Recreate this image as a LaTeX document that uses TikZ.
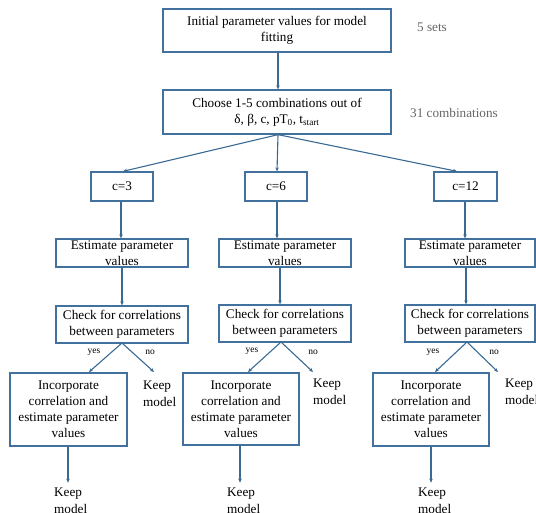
\documentclass[tikz,border=0pt]{standalone}
\usepackage{fontspec}
\setmainfont{Liberation Serif}
\usetikzlibrary{arrows.meta,calc}
\definecolor{boxc}{HTML}{41719C}
\definecolor{arrc}{HTML}{3A6A94}
\begin{document}
\begin{tikzpicture}[x=1pt,y=-1pt,
  box/.style={draw=boxc,line width=1.3pt,rectangle,align=center,inner sep=0pt,
    font=\fontsize{13.2}{16}\selectfont},
  arr/.style={draw=arrc,line width=1.1pt,-{Stealth[length=4pt,width=3.5pt]}},
  note/.style={font=\fontsize{13.2}{16}\selectfont,text=black!60,inner sep=0pt},
  plain/.style={font=\fontsize{13.2}{16.5}\selectfont,align=left,inner sep=0pt},
  yn/.style={font=\fontsize{9.5}{11}\selectfont,inner sep=0pt}]
\useasboundingbox (0,0) rectangle (536,513);

\node[box,minimum width=228pt,minimum height=43pt] (b1) at (277,30.5)
  {Initial parameter values for model\\fitting};
\node[note] (n1) at (432,27) {5 sets};
\node[box,minimum width=228pt,minimum height=44pt] (b2) at (277,112)
  {Choose 1-5 combinations out of\\δ, β, c, pT\textsubscript{0}, t\textsubscript{start}};
\node[note] (n2) at (454,113) {31 combinations};
\draw[arr] ([xshift=1pt]b1.south) -- ([xshift=1pt]b2.north);

% c boxes
\node[box,minimum width=62pt,minimum height=29pt] (c3) at (122,186.5) {c=3};
\node[box,minimum width=62pt,minimum height=29pt] (c6) at (276,186.5) {c=6};
\node[box,minimum width=63pt,minimum height=29pt] (c12) at (465.5,186.5) {c=12};
\draw[arr] ([xshift=1pt]b2.south) -- ([xshift=1pt]c3.north);
\draw[arr] ([xshift=1pt]b2.south) -- ([xshift=1pt]c6.north);
\draw[arr] ([xshift=1pt]b2.south) -- ([xshift=-8.5pt]c12.north);

% estimate boxes
\node[box,minimum width=132pt,minimum height=28pt] (e1) at (122,253) {Estimate parameter\\values};
\node[box,minimum width=132pt,minimum height=28pt] (e2) at (285,253) {Estimate parameter\\values};
\node[box,minimum width=130pt,minimum height=28pt] (e3) at (470,253) {Estimate parameter\\values};
\draw[arr] ([xshift=-1pt]c3.south) -- ([xshift=-1pt]c3.south |- e1.north);
\draw[arr] ([xshift=1pt]c6.south) -- ([xshift=1pt]c6.south |- e2.north);
\draw[arr] ([xshift=-0.5pt]c12.south) -- ([xshift=-0.5pt]c12.south |- e3.north);

% check boxes
\node[box,minimum width=132pt,minimum height=37pt] (k1) at (122,324.5) {Check for correlations\\between parameters};
\node[box,minimum width=132pt,minimum height=37pt] (k2) at (285,323.5) {Check for correlations\\between parameters};
\node[box,minimum width=130pt,minimum height=37pt] (k3) at (470,323.5) {Check for correlations\\between parameters};
\draw[arr] (e1.south) -- (e1.south |- k1.north);
\draw[arr] ([xshift=-5pt]e2.south) -- ([xshift=-5pt]e2.south |- k2.north);
\draw[arr] ([xshift=-4pt]e3.south) -- ([xshift=-4pt]e3.south |- k3.north);

% incorporate boxes
\node[box,minimum width=117pt,minimum height=73pt] (i1) at (68.5,409.5)
  {Incorporate\\correlation and\\estimate parameter\\values};
\node[box,minimum width=116pt,minimum height=72pt] (i2) at (241,409)
  {Incorporate\\correlation and\\estimate parameter\\values};
\node[box,minimum width=116pt,minimum height=73pt] (i3) at (431,409.5)
  {Incorporate\\correlation and\\estimate parameter\\values};

% side keep model
\node[plain,anchor=north west] (s1) at (143,381) {Keep\\model};
\node[plain,anchor=north west] (s2) at (313,379) {Keep\\model};
\node[plain,anchor=north west] (s3) at (505,379) {Keep\\model};

% branch points
\coordinate (a1) at (122,343);
\coordinate (a2) at (281,342);
\coordinate (a3) at (467,342);
\coordinate (y1) at (89,372);  \coordinate (m1) at (154,372);
\coordinate (y2) at (248,372); \coordinate (m2) at (313,372);
\coordinate (y3) at (435,372); \coordinate (m3) at (498,372);
\draw[arr] (a1) -- (y1);
\draw[arr] (a1) -- (m1);
\draw[arr] (a2) -- (y2);
\draw[arr] (a2) -- (m2);
\draw[arr] (a3) -- (y3);
\draw[arr] (a3) -- (m3);
\node[yn] (ly1) at (94,352) {yes};
\node[yn] (ln1) at (150,352) {no};
\node[yn] (ly2) at (252,351) {yes};
\node[yn] (ln2) at (313,352) {no};
\node[yn] (ly3) at (433,352) {yes};
\node[yn] (ln3) at (494,352) {no};

% bottom keep model
\node[plain,anchor=north west] (f1) at (54,488) {Keep\\model};
\node[plain,anchor=north west] (f2) at (227,488) {Keep\\model};
\node[plain,anchor=north west] (f3) at (418,488) {Keep\\model};
\draw[arr] ([xshift=-0.5pt]i1.south) -- ++(0,36);
\draw[arr] ([xshift=-1pt]i2.south) -- ++(0,37);
\draw[arr] (i3.south) -- ++(0,36);
\end{tikzpicture}
\end{document}
